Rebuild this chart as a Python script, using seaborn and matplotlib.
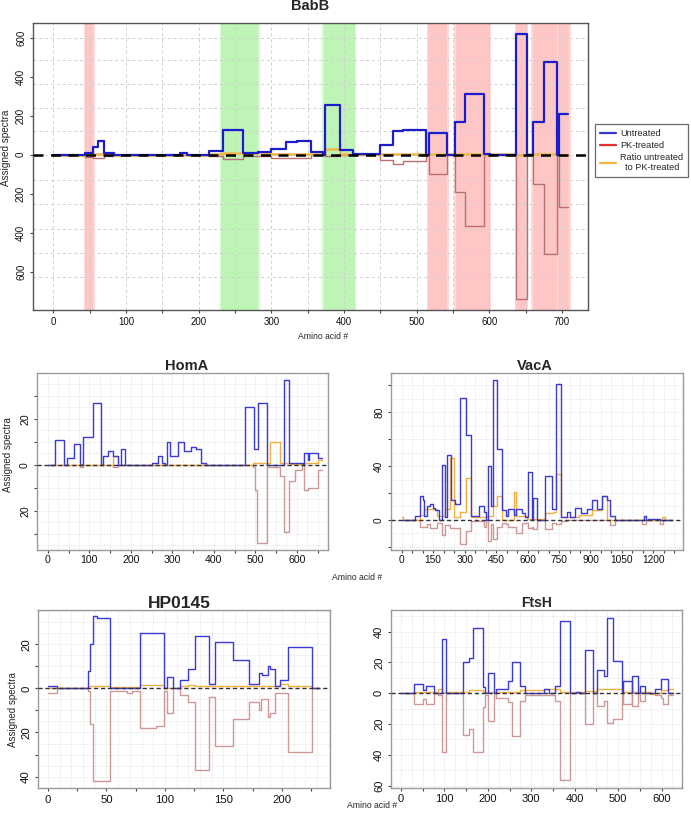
import matplotlib
matplotlib.use("Agg")
import matplotlib.pyplot as plt
from matplotlib.lines import Line2D
import numpy as np
import seaborn as sns

# ---- data: step breakpoints (amino acid #) and assigned spectra ----
babb_len = 708
babb_unt_x = [0, 44, 54, 61, 70, 83, 175, 184, 214, 233, 261, 282, 300, 320, 336, 354, 371, 374, 394, 413,
              450, 468, 482, 513, 517, 542, 553, 566, 593, 601, 637, 652, 660, 675, 693, 696]
babb_unt_y = [0, 10, 40, 72, 8, 0, 8, 0, 20, 128, 8, 15, 31, 65, 72, 12, 0, 256, 27, 2,
              50, 121, 125, 0, 111, 0, 166, 311, 3, 0, 619, 0, 166, 474, 0, 208]
babb_pk_x = [0, 44, 54, 70, 83, 175, 214, 233, 261, 300, 354, 374, 394, 413, 450, 468, 482, 513, 517,
             542, 553, 566, 593, 637, 652, 660, 675, 693, 696]
babb_pk_y = [0, 10, 18, 5, 0, 3, 8, 22, 5, 15, 3, 5, 2, 0, 25, 45, 30, 0, 97,
             0, 191, 366, 0, 738, 0, 150, 508, 0, 265]
babb_ratio_x = [0, 44, 83, 214, 233, 261, 300, 374, 394, 413, 450, 513, 553, 593, 637, 652, 660, 693, 696]
babb_ratio_y = [0, 3, 0, 5, 8, 10, 5, 28, 5, 2, 3, 2, 2, 2, 1, 2, 2, 2, 1]
babb_red_regions = [(44, 55), (516, 542), (554, 601), (637, 652), (660, 705), (695, 710)]
babb_green_regions = [(231, 282), (372, 415)]

homa_len = 661
homa_unt_x = [0, 18, 40, 46, 63, 77, 85, 109, 129, 134, 144, 156, 170, 177, 186, 250, 266, 276, 283, 288,
              295, 313, 329, 346, 356, 368, 380, 476, 496, 506, 527, 568, 581, 614, 616, 627, 629, 651]
homa_unt_y = [0, 11, 0, 3, 9, 0, 12, 27, 0, 4, 6, 4, 0, 7, 0, 1, 4, 1, 0, 10,
              4, 10, 6, 8, 7, 1, 0, 25, 7, 27, 0, 37, 1, 0, 5, 2, 5, 3]
homa_pk_x = [0, 77, 85, 156, 170, 494, 498, 505, 527, 560, 568, 581, 596, 612, 616, 627, 651]
homa_pk_y = [0, 1, 0, 1, 0, 1, 11, 34, 1, 5, 29, 7, 2, 0, 11, 10, 2]
homa_ratio_x = [0, 77, 85, 156, 170, 494, 535, 560, 584, 616, 651]
homa_ratio_y = [0, 0.5, 0, 4, 0, 1, 10, 1, 0.5, 1, 2]

vaca_len = 1290
vaca_unt_x = [0, 64, 87, 100, 106, 122, 135, 148, 159, 180, 194, 208, 215, 234, 254, 278, 305, 331, 370, 390,
              401, 410, 424, 437, 456, 479, 496, 509, 533, 544, 572, 588, 604, 620, 628, 644, 684, 715, 736, 760,
              787, 803, 824, 854, 882, 906, 930, 954, 978, 994, 1017, 1156, 1165, 1176, 1232]
vaca_unt_y = [0, 3, 18, 15, 3, 10, 12, 9, 7, 0, 41, 2, 48, 15, 12, 91, 63, 3, 10, 6,
              0, 40, 10, 104, 53, 7, 3, 8, 4, 8, 5, 2, 36, 0, 16, 0, 33, 8, 101, 2,
              6, 2, 9, 5, 8, 15, 8, 18, 15, 3, 0, 3, 0, 1, 0]
vaca_pk_x = [0, 87, 122, 135, 167, 194, 208, 230, 278, 305, 331, 390, 401, 410, 424, 437, 456, 479, 496, 509,
             544, 572, 604, 620, 628, 644, 684, 715, 736, 760, 787, 994, 1017, 1145, 1165, 1232, 1248]
vaca_pk_y = [0, 5, 3, 6, 2, 11, 4, 6, 18, 8, 1, 5, 0, 16, 3, 14, 5, 2, 3, 5,
             10, 2, 6, 5, 7, 0, 7, 2, 3, 1, 0, 4, 0, 3, 0, 3, 0]
vaca_ratio_x = [0, 8, 87, 108, 167, 207, 230, 251, 278, 307, 331, 405, 434, 456, 479, 533, 545, 596, 684, 723,
                736, 760, 843, 906, 954, 978, 1240, 1256]
vaca_ratio_y = [2, 0, 4, 8, 3, 8, 46, 2, 6, 31, 2, 3, 10, 18, 0, 21, 3, 1, 5, 6,
                34, 2, 4, 7, 18, 0, 2, 0]

hp_len = 232
hp_unt_x = [0, 8, 34, 36, 38.5, 42, 53, 79, 99.5, 102, 107, 113, 120, 126, 137.6, 143, 158, 171.5, 180, 183,
            188, 190, 194, 198, 205, 225.6]
hp_unt_y = [1, 0, 8, 20, 33, 32, 0, 25, 0, 5, 0, 4, 9, 24, 2, 21, 13, 2, 7, 6,
            10, 9, 1, 4, 19, 0]
hp_pk_x = [0, 8, 34, 36, 38.5, 53, 60, 67.5, 72, 79, 92.5, 99.5, 102, 107, 113, 120, 126, 137.6, 143, 158,
           171.5, 180, 182, 188, 190, 194, 205, 225.6]
hp_pk_y = [2, 0, 1, 16, 42, 1, 1, 2, 1, 18, 17, 1, 11, 0, 3, 6, 37, 4, 26, 14,
           6, 10, 5, 13, 11, 2, 29, 0]
hp_ratio_x = [0, 34, 53, 79, 99.5, 113, 120, 126, 171.5, 198, 205, 225.6]
hp_ratio_y = [0, 1, 0.5, 1.5, 0, 1, 1.5, 1, 1, 2, 1, 0]

ftsh_len = 627
ftsh_unt_x = [0, 30, 50, 57, 77, 94, 104, 142, 157, 166, 188, 193, 201, 213, 218, 247, 256, 274, 285, 329,
              341, 355, 366, 388, 404, 412, 424, 441, 452, 468, 474, 487, 508, 512, 531, 533, 546, 550, 562, 585,
              598, 615]
ftsh_unt_y = [0, 6, 2, 5, 0, 35, 0, 20, 23, 42, 4, 0, 13, 0, 3, 8, 20, 5, 0, 3,
              0, 5, 47, 0, 1, 0, 28, 0, 15, 11, 49, 21, 0, 8, 0, 11, 0, 5, 0, 3,
              9, 0]
ftsh_pk_x = [0, 30, 50, 57, 77, 86, 94, 104, 142, 157, 166, 188, 193, 201, 213, 218, 247, 256, 274, 285,
             355, 366, 388, 424, 441, 452, 468, 474, 487, 508, 512, 531, 533, 546, 550, 562, 585, 598, 604, 615]
ftsh_pk_y = [0, 7, 4, 7, 0, 1, 38, 0, 27, 23, 38, 9, 1, 18, 0, 3, 6, 28, 5, 1,
             5, 56, 0, 20, 0, 8, 5, 19, 17, 0, 7, 0, 8, 0, 5, 0, 1, 3, 7, 1]
ftsh_ratio_x = [0, 30, 86, 94, 142, 157, 188, 274, 329, 366, 424, 452, 512, 573, 585, 598, 615]
ftsh_ratio_y = [0, 1, 3, 1, 1, 2, 1, 2, 3, 1, 1.5, 3, 1, -0.5, 0, 2, 3]

legend_labels = ["Untreated", "PK-treated", "Ratio untreated\nto PK-treated"]

# ---- style ----
sns.set_style("white")
plt.rcParams["font.family"] = ["Liberation Sans", "DejaVu Sans"]

W, H = 691, 818
fig = plt.figure(figsize=(W / 100, H / 100), dpi=100)


def box(l, t, r, b):
    return [l / W, 1 - b / H, (r - l) / W, (b - t) / H]


def fy(y):
    return 1 - y / H


def step(ax, x, y, length, sign, **kw):
    xs = list(x) + [length]
    ys = [sign * v for v in y] + [sign * y[-1]]
    sns.lineplot(x=xs, y=ys, ax=ax, drawstyle="steps-post", estimator=None, sort=False, **kw)


def abs_fmt(label_step):
    def f(v, pos):
        if abs(round(v) % label_step) < 1e-6:
            return f"{abs(v):g}"
        return ""
    return plt.FuncFormatter(f)


def frame(ax, color, xlim, ylim, xticks, xlabel_step, yticks, ylabel_step, fs, xpad):
    ax.set_xlim(*xlim)
    ax.set_ylim(*ylim)
    for s in ax.spines.values():
        s.set_visible(True)
        s.set_color(color)
        s.set_linewidth(1.0)
    ax.set_xticks(xticks)
    ax.set_yticks(yticks)
    ax.xaxis.set_major_formatter(abs_fmt(xlabel_step))
    ax.yaxis.set_major_formatter(abs_fmt(ylabel_step))
    ax.tick_params(axis="both", direction="out", length=2.5, width=0.8, color="#444444",
                   labelsize=fs, labelcolor="#111111", bottom=True, left=True)
    ax.tick_params(axis="x", pad=xpad)
    ax.tick_params(axis="y", labelrotation=90, pad=2.5)
    for lab in ax.get_yticklabels():
        lab.set_va("center")
    ax.set_xlabel("")
    ax.set_ylabel("")


# ---- top panel: BabB ----
ax = fig.add_axes(box(33, 23, 588, 310))
for a, b in babb_red_regions:
    ax.axvspan(a - 2, b + 2, color="#ffd9d9", lw=0, zorder=0)
    ax.axvspan(a, b, color="#ffc6c6", lw=0, zorder=0)
for a, b in babb_green_regions:
    ax.axvspan(a - 2, b + 2, color="#d6f9d0", lw=0, zorder=0)
    ax.axvspan(a, b, color="#bef5b6", lw=0, zorder=0)
for gx in np.arange(0, 751, 50):
    ax.axvline(gx, color="#cfcfcf", lw=0.7, ls=(0, (3, 3)), zorder=0.5)
for gy in [-627, -503, -380, -252, -128, 0, 120, 242, 364, 485, 600]:
    ax.axhline(gy, color="#cfcfcf", lw=0.7, ls=(0, (3, 3)), zorder=0.5)
step(ax, babb_pk_x, babb_pk_y, babb_len, -1, color="#b87070", lw=1.0, zorder=2)
step(ax, babb_ratio_x, babb_ratio_y, babb_len, 1, color="#f0b848", lw=1.8, zorder=3)
step(ax, babb_unt_x, babb_unt_y, babb_len, 1, color="#1c1ccc", lw=1.6, zorder=4)
ax.axhline(0, color="black", lw=1.8, ls=(0, (4, 3)), zorder=5)
frame(ax, "#555555", (-28, 736), (-795, 675), np.arange(0, 701, 50), 100,
      np.arange(-600, 601, 200), 200, 7, 2.5)
fig.text(310 / W, fy(10.5), "BabB", ha="center", va="baseline", fontsize=10.5, fontweight="bold")
fig.text(6 / W, fy(148), "Assigned spectra", rotation=90, ha="center", va="center", fontsize=7.2)
fig.text(323 / W, fy(339), "Amino acid #", ha="center", va="baseline", fontsize=6.2)

handles = [Line2D([], [], color="#3535d0", lw=1.6),
           Line2D([], [], color="#e83030", lw=1.6),
           Line2D([], [], color="#f0b640", lw=1.6)]
leg = fig.legend(handles, legend_labels, loc="upper left", bbox_to_anchor=(595 / W, fy(124)),
                 fontsize=6.6, frameon=True, fancybox=False, edgecolor="#444444",
                 handlelength=1.75, handletextpad=0.45, borderpad=0.55, labelspacing=0.3,
                 borderaxespad=0)
leg.get_frame().set_linewidth(0.9)
for t in leg.get_texts():
    t.set_multialignment("center")


# ---- small panels ----
def small(rect, title, title_xy, title_fs, length, unt, pk, ratio, xlim, ylim, xticks, xls, yticks, yls,
          gx_step, gy_step, fs, xpad):
    ax = fig.add_axes(box(*rect))
    for gx in np.arange(0, xlim[1], gx_step):
        ax.axvline(gx, color="#dcdcdc", lw=0.6, ls=(0, (1, 1.5)), zorder=0.5)
    for gy in np.arange(np.ceil(ylim[0] / gy_step) * gy_step, ylim[1], gy_step):
        ax.axhline(gy, color="#dcdcdc", lw=0.6, ls=(0, (1, 1.5)), zorder=0.5)
    step(ax, pk[0], pk[1], length, -1, color="#cc9999", lw=1.0, zorder=2)
    step(ax, ratio[0], ratio[1], length, 1, color="#f2b040", lw=1.0, zorder=3)
    step(ax, unt[0], unt[1], length, 1, color="#3a3ad6", lw=1.0, zorder=4)
    ax.axhline(0, color="#333333", lw=1.0, ls=(0, (3, 2)), zorder=5)
    frame(ax, "#9a9a9a", xlim, ylim, xticks, xls, yticks, yls, fs, xpad)
    fig.text(title_xy[0] / W, fy(title_xy[1]), title, ha="center", va="baseline",
             fontsize=title_fs, fontweight="bold")
    return ax


small((37, 373, 328, 550), "HomA", (187, 370), 10.5, homa_len,
      (homa_unt_x, homa_unt_y), (homa_pk_x, homa_pk_y), (homa_ratio_x, homa_ratio_y),
      (-26, 675), (-37, 40), np.arange(0, 651, 50), 100, np.arange(-30, 31, 10), 20, 25, 5, 7.6, 1.0)
small((391, 373, 683, 550), "VacA", (535, 370), 10.5, vaca_len,
      (vaca_unt_x, vaca_unt_y), (vaca_pk_x, vaca_pk_y), (vaca_ratio_x, vaca_ratio_y),
      (-51, 1341), (-22.4, 109.3), np.arange(0, 1301, 50), 150, np.arange(-20, 101, 20), 40, 50, 10,
      7.3, 1.0)
small((38, 610, 330, 788), "HP0145", (179, 608), 12.5, hp_len,
      (hp_unt_x, hp_unt_y), (hp_pk_x, hp_pk_y), (hp_ratio_x, hp_ratio_y),
      (-8.5, 241), (-45.2, 35.6), np.arange(0, 226, 25), 50, np.arange(-40, 21, 10), 20, 10, 5, 8.2, 2.5)
small((391, 610, 682, 788), "FtsH", (537, 607), 10, ftsh_len,
      (ftsh_unt_x, ftsh_unt_y), (ftsh_pk_x, ftsh_pk_y), (ftsh_ratio_x, ftsh_ratio_y),
      (-23, 647), (-61.5, 54), np.arange(0, 601, 50), 100, np.arange(-60, 41, 20), 20, 25, 10, 8.0, 2.0)

fig.text(8 / W, fy(455), "Assigned spectra", rotation=90, ha="center", va="center", fontsize=7)
fig.text(13 / W, fy(710), "Assigned spectra", rotation=90, ha="center", va="center", fontsize=7)
fig.text(357 / W, fy(580), "Amino acid #", ha="center", va="baseline", fontsize=6.2)
fig.text(372 / W, fy(808), "Amino acid #", ha="center", va="baseline", fontsize=6.2)

fig.savefig("out.png", dpi=100)
